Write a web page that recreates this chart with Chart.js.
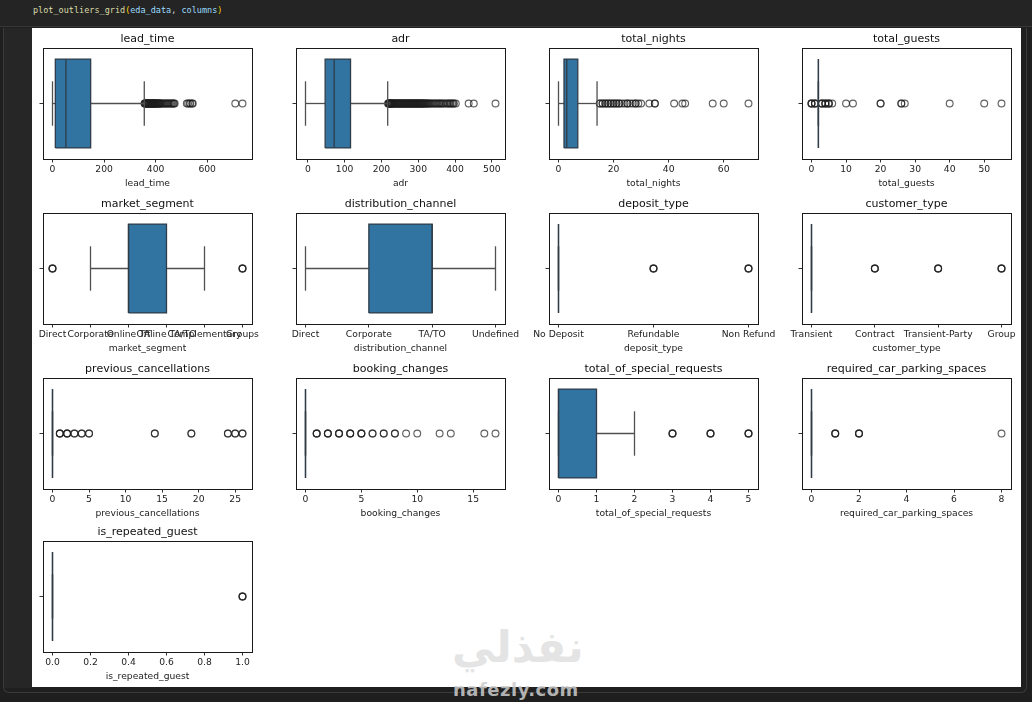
<!DOCTYPE html>
<html>
<head>
<meta charset="utf-8">
<script src="https://cdn.jsdelivr.net/npm/chart.js@4.4.1/dist/chart.umd.min.js"></script>
<style>
  body { margin: 0; width: 1032px; height: 702px; overflow: hidden; position: relative; background: #1f1f1f; font-family: "DejaVu Sans", sans-serif; }
  .codebar { position: absolute; left: 0; top: 0; width: 1032px; height: 26px; background: #242424; border-bottom: 1px solid #383838; }
  .code { position: absolute; left: 33px; top: 5px; font-family: "DejaVu Sans Mono", monospace; font-size: 8.5px; color: #d4d4d4; white-space: pre; }
  .fn { color: #dcdcaa; } .par { color: #ffd700; } .var { color: #9cdcfe; }
  .gutter { position: absolute; left: 3px; top: 28px; width: 29px; height: 660px; background: #262626; border-left: 1px solid #3a3a3a; }
  .cellborder { position: absolute; left: 3px; top: 28px; width: 1022px; height: 664px; border: 1px solid #3a3a3a; border-top: none; border-radius: 0 0 6px 6px; }
  .output { position: absolute; left: 32px; top: 28px; width: 989px; height: 659px; background: #fff; }
  .panel { position: absolute; }
  .wm-ar { position: absolute; left: 452px; top: 622px; font-size: 43px; font-weight: bold; color: #e4e4e4; }
  .wm-en { position: absolute; left: 453px; top: 679px; font-size: 18px; font-weight: bold; color: rgba(205,205,205,0.85); letter-spacing: 0.5px; }
</style>
</head>
<body>
<div class="codebar"><div class="code"><span class="fn">plot_outliers_grid</span><span class="par">(</span><span class="var">eda_data</span>, <span class="var">columns</span><span class="par">)</span></div></div>
<div class="cellborder"></div>
<div class="gutter"></div>
<div class="output"></div>
<div class="wm-ar">نفذلي</div>
<div class="wm-en">nafezly.com</div>
<script>
// columns plotted, in grid order
const titles = ['lead_time', 'adr', 'total_nights', 'total_guests',
  'market_segment', 'distribution_channel', 'deposit_type', 'customer_type',
  'previous_cancellations', 'booking_changes', 'total_of_special_requests', 'required_car_parking_spaces',
  'is_repeated_guest'];

// box statistics
const whiskerLow  = [0, -6.38, 0, 2, 1, 0, 0, 0, 0, 0, 0, 0, 0];
const q1          = [11, 47, 2, 2, 2, 1, 0, 0, 0, 0, 0, 0, 0];
const median      = [52, 71.5, 3, 2, 2, 2, 0, 0, 0, 0, 0, 0, 0];
const q3          = [148, 116, 7, 2, 3, 2, 0, 0, 0, 0, 1, 0, 0];
const whiskerHigh = [356, 217, 14, 2, 4, 3, 0, 0, 0, 0, 2, 0, 0];

// outliers (repeated values = many overlapping points)
const leadTimeOut = [357, 358, 360, 361, 363, 364, 366, 367, 369, 370, 372, 373, 375, 376, 378, 379, 381, 382, 384, 385,
  387, 388, 390, 391, 393, 394, 396, 397, 399, 400, 402, 404, 406, 408, 410, 412, 414, 416, 418, 420,
  424, 428, 432, 436, 440, 444, 448, 452, 456, 460, 464, 468, 471, 474, 521, 526, 532, 535, 542, 544, 709, 737];
const adrOut = [218, 219, 220, 221, 222, 223, 224, 225, 226, 227, 228, 229, 230, 232, 233, 235, 236, 238, 239, 241, 242,
  244, 245, 247, 248, 250, 251, 253, 254, 256, 257, 259, 260, 262, 263, 265, 266, 268, 269, 271, 272, 274, 275,
  277, 278, 280, 281, 283, 284, 286, 287, 289, 290, 292, 293, 295, 296, 298, 299, 301, 302, 304, 305, 307, 308,
  310, 311, 313, 314, 316, 318, 320, 322, 324, 326, 328, 331, 334, 337, 340, 344, 347, 350, 354, 357, 360, 363, 367,
  370, 375, 379, 382, 386, 388, 392, 395, 397, 402, 437, 451, 510];
const totalNightsOut = [15, 15, 16, 16, 17, 17, 18, 18, 19, 19, 20, 20, 21, 21, 22, 22, 23, 24, 25, 25, 26, 27, 28, 28, 29, 30,
  33, 35, 35, 42, 45, 46, 56, 60, 69];
const totalGuestsOut = [0, 0, 0, 1, 1, 1, 3, 3, 3, 4, 4, 4, 5, 5, 5, 6, 10, 12, 20, 20, 26, 26, 27, 40, 50, 55];
const marketSegmentOut = [0, 0, 0, 5, 5, 5];
const distributionChannelOut = [];
const depositTypeOut = [1, 1, 1, 2, 2, 2];
const customerTypeOut = [1, 1, 1, 2, 2, 2, 3, 3, 3];
const prevCancelOut = [1, 1, 1, 2, 2, 2, 3, 3, 4, 4, 5, 5, 14, 14, 19, 19, 24, 24, 25, 25, 26, 26];
const bookingChangesOut = [1, 1, 1, 2, 2, 2, 3, 3, 3, 4, 4, 4, 5, 5, 5, 6, 6, 7, 7, 8, 8, 9, 10, 12, 13, 16, 17];
const specialRequestsOut = [3, 3, 3, 4, 4, 4, 5, 5, 5];
const parkingOut = [1, 1, 1, 2, 2, 2, 8];
const repeatedGuestOut = [1, 1, 1];
const outliers = [leadTimeOut, adrOut, totalNightsOut, totalGuestsOut, marketSegmentOut, distributionChannelOut,
  depositTypeOut, customerTypeOut, prevCancelOut, bookingChangesOut, specialRequestsOut, parkingOut, repeatedGuestOut];

// category names for the coded columns
const marketSegments = ['Direct', 'Corporate', 'Online TA', 'Offline TA/TO', 'Complementary', 'Groups'];
const distributionChannels = ['Direct', 'Corporate', 'TA/TO', 'Undefined'];
const depositTypes = ['No Deposit', 'Refundable', 'Non Refund'];
const customerTypes = ['Transient', 'Contract', 'Transient-Party', 'Group'];
const categories = [null, null, null, null, marketSegments, distributionChannels, depositTypes, customerTypes, null, null, null, null, null];

// x tick values of the numeric columns
const tickValues = [
  [0, 200, 400, 600], [0, 100, 200, 300, 400, 500], [0, 20, 40, 60], [0, 10, 20, 30, 40, 50],
  null, null, null, null,
  [0, 5, 10, 15, 20, 25], [0, 5, 10, 15], [0, 1, 2, 3, 4, 5], [0, 2, 4, 6, 8],
  [0, 0.2, 0.4, 0.6, 0.8, 1.0]
];

const COL_LEFT = [43, 296, 549, 802];
const ROW_TOP = [48, 213, 378, 541];
const FONT = '"DejaVu Sans", sans-serif';
const BOX = '#3274a1', EDGE = '#2f3c48', WHISK = '#505050', AXIS = '#1a1a1a';

const framePlugin = {
  id: 'frame',
  afterDraw(chart) {
    const { ctx, chartArea: a } = chart;
    ctx.save();
    ctx.strokeStyle = AXIS;
    ctx.lineWidth = 1;
    ctx.strokeRect(Math.round(a.left) + 0.5, Math.round(a.top) + 0.5, Math.round(a.right - a.left), Math.round(a.bottom - a.top));
    ctx.restore();
  }
};

function seg(points, color) {
  return { type: 'line', data: points, borderColor: color, borderWidth: 1.3, pointRadius: 0, fill: false };
}

function makePanel(i) {
  const col = i % 4, row = Math.floor(i / 4);
  const wrap = document.createElement('div');
  wrap.className = 'panel';
  wrap.style.left = (COL_LEFT[col] - 40) + 'px';
  wrap.style.top = (ROW_TOP[row] - 30) + 'px';
  const cv = document.createElement('canvas');
  cv.width = 289; cv.height = 181;
  wrap.appendChild(cv);
  document.body.appendChild(wrap);

  const lo = whiskerLow[i], a = q1[i], m = median[i], b = q3[i], hi = whiskerHigh[i];
  const out = outliers[i];
  const all = [lo, hi].concat(out);
  const dmin = Math.min(...all), dmax = Math.max(...all);
  const pad = (dmax - dmin) * 0.05;
  const cats = categories[i];
  const ticks = cats ? cats.map((_, k) => k) : tickValues[i];
  const step = ticks[1] - ticks[0];

  new Chart(cv, {
    type: 'scatter',
    data: {
      datasets: [
        seg([{ x: m, y: -0.4 }, { x: m, y: 0.4 }], EDGE),
        seg([{ x: a, y: -0.4 }, { x: b, y: -0.4 }, { x: b, y: 0.4 }, { x: a, y: 0.4 }, { x: a, y: -0.4 }], EDGE),
        seg([{ x: lo, y: -0.2 }, { x: lo, y: 0.2 }], WHISK),
        seg([{ x: hi, y: -0.2 }, { x: hi, y: 0.2 }], WHISK),
        seg([{ x: lo, y: 0 }, { x: a, y: 0 }], WHISK),
        seg([{ x: b, y: 0 }, { x: hi, y: 0 }], WHISK),
        {
          type: 'scatter', data: out.map(v => ({ x: v, y: 0 })),
          pointRadius: 3.4, pointBorderWidth: 1.15,
          pointBorderColor: 'rgba(30,30,30,0.7)', pointBackgroundColor: 'rgba(0,0,0,0)'
        },
        { type: 'line', data: [{ x: a, y: 0.4 }, { x: b, y: 0.4 }], borderWidth: 0, borderColor: 'rgba(0,0,0,0)', pointRadius: 0, fill: '+1', backgroundColor: BOX },
        { type: 'line', data: [{ x: a, y: -0.4 }, { x: b, y: -0.4 }], borderWidth: 0, borderColor: 'rgba(0,0,0,0)', pointRadius: 0, fill: false }
      ]
    },
    options: {
      animation: false,
      responsive: false,
      events: [],
      layout: { autoPadding: false, padding: { left: 36, right: 40, top: 14.8, bottom: 0 } },
      plugins: {
        legend: { display: false },
        tooltip: { enabled: false },
        title: {
          display: true, text: titles[i], fullSize: false, color: '#111',
          font: { family: FONT, size: 11, weight: 'normal', lineHeight: 1.2 },
          padding: { top: 0, bottom: 2 }
        }
      },
      scales: {
        x: {
          type: 'linear', min: dmin - pad, max: dmax + pad,
          afterBuildTicks: s => { s.ticks = ticks.map(v => ({ value: v })); },
          afterFit: s => { s.height = 40; },
          ticks: {
            autoSkip: false, maxRotation: 0, minRotation: 0, padding: 2, color: '#222',
            font: { family: FONT, size: 9.2 },
            callback: v => cats ? cats[v] : (step < 1 ? v.toFixed(1) : String(v))
          },
          grid: { drawOnChartArea: false, drawTicks: true, tickLength: 3.5, tickColor: AXIS, tickWidth: 0.9 },
          border: { display: true, color: AXIS, width: 1 },
          title: {
            display: true, text: titles[i], color: '#222',
            font: { family: FONT, size: 9.2, lineHeight: 1.2 }, padding: { top: 0, bottom: 10 }
          }
        },
        y: {
          type: 'linear', min: -0.5, max: 0.5,
          afterBuildTicks: s => { s.ticks = [{ value: 0 }]; },
          afterFit: s => { s.width = 4; },
          ticks: { display: false },
          grid: { drawOnChartArea: false, drawTicks: true, tickLength: 3.5, tickColor: AXIS, tickWidth: 0.9 },
          border: { display: true, color: AXIS, width: 1 }
        }
      }
    },
    plugins: [framePlugin]
  });
}

titles.forEach((_, i) => makePanel(i));
</script>
</body>
</html>
